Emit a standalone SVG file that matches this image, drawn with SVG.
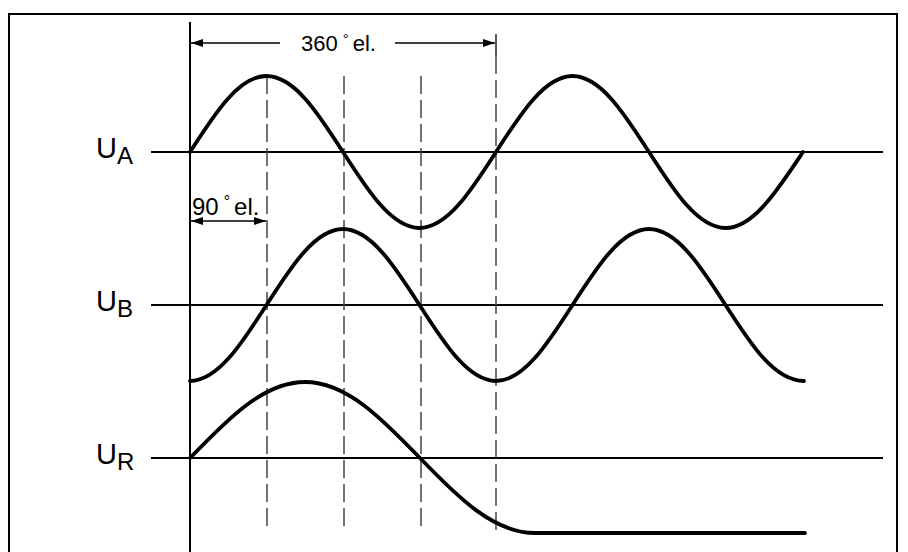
<svg xmlns="http://www.w3.org/2000/svg" width="908" height="552" viewBox="0 0 908 552">
<style>
.frame{fill:none;stroke:#000;stroke-width:2}
.axis{stroke:#000;stroke-width:2;fill:none}
.wave{fill:none;stroke:#000;stroke-width:3.8;stroke-linejoin:round;stroke-linecap:round}
.dash{stroke:#444;stroke-width:1.5;stroke-dasharray:18 6;fill:none}
.dim{stroke:#000;stroke-width:1.3;fill:none}
.lbl{font-family:"Liberation Sans",Arial,sans-serif;font-size:22px;fill:#000}
.u{font-family:"Liberation Sans",Arial,sans-serif;font-size:29px;fill:#000}
.sub{font-family:"Liberation Sans",Arial,sans-serif;font-size:24px;fill:#000}
</style>
<defs>
<marker id="ah" viewBox="0 0 12 8" refX="12" refY="4" markerWidth="12" markerHeight="8" markerUnits="userSpaceOnUse" orient="auto-start-reverse">
<path d="M0,0 L12,4 L0,8 Z" fill="#000"/>
</marker>
</defs>
<rect class="frame" x="9" y="14" width="888" height="560"/>
<g id="connectors">
<line class="axis" x1="190" y1="22" x2="190" y2="552"/>
<line class="axis" x1="151" y1="152" x2="883" y2="152"/>
<line class="axis" x1="151" y1="305" x2="883" y2="305"/>
<line class="axis" x1="151" y1="458" x2="883" y2="458"/>
<line class="dash" x1="267" y1="76" x2="267" y2="532"/>
<line class="dash" x1="344" y1="76" x2="344" y2="532"/>
<line class="dash" x1="421" y1="76" x2="421" y2="532"/>
<line class="dim" x1="496" y1="34" x2="496" y2="56"/>
<line class="dash" x1="496" y1="56" x2="496" y2="532"/>
<line class="dim" x1="191" y1="43" x2="280" y2="43" marker-start="url(#ah)"/>
<line class="dim" x1="395" y1="43" x2="495" y2="43" marker-end="url(#ah)"/>
<line class="dim" x1="191" y1="221" x2="266" y2="221" marker-start="url(#ah)" marker-end="url(#ah)"/>
</g>
<g id="wave-UA">
<path class="wave" d="M190,152 C214.95,113.07 238.81,76 266.5,76 C294.19,76 318.05,113.07 343,152 C367.95,190.93 391.81,228 419.5,228 C447.19,228 471.05,190.93 496,152 C520.95,113.07 544.81,76 572.5,76 C600.19,76 624.05,113.07 649,152 C673.95,190.93 697.81,228 725.5,228 C753.19,228 777.05,190.93 803,152"/>
<text class="u" x="96" y="158">U<tspan class="sub" dy="6">A</tspan></text>
</g>
<g id="wave-UB">
<path class="wave" d="M190,381 C217.69,381 241.55,343.93 266.5,305 C291.45,266.07 315.31,229 343,229 C370.69,229 394.55,266.07 419.5,305 C444.45,343.93 468.31,381 496,381 C523.69,381 547.55,343.93 572.5,305 C597.45,266.07 621.31,229 649,229 C676.69,229 700.55,266.07 725.5,305 C750.45,343.93 774.31,381 804,381"/>
<text class="u" x="96" y="311">U<tspan class="sub" dy="6">B</tspan></text>
</g>
<g id="wave-UR">
<path class="wave" d="M190,458 C227.5,419.07 263.38,382 305,382 C346.62,382 382.5,419.07 420,458 C457.5,496.93 493.38,533 535,533 L805,533"/>
<text class="u" x="96" y="464">U<tspan class="sub" dy="6">R</tspan></text>
</g>
<g id="label-360">
<text class="lbl" x="301" y="51">360<tspan dx="5" dy="-7" font-size="15">°</tspan><tspan dx="4" dy="7">el.</tspan></text>
</g>
<g id="label-90">
<text class="lbl" x="192" y="215" style="font-size:24px">90<tspan dx="5" dy="-8" font-size="16">°</tspan><tspan dx="4" dy="8">el.</tspan></text>
</g>
</svg>
